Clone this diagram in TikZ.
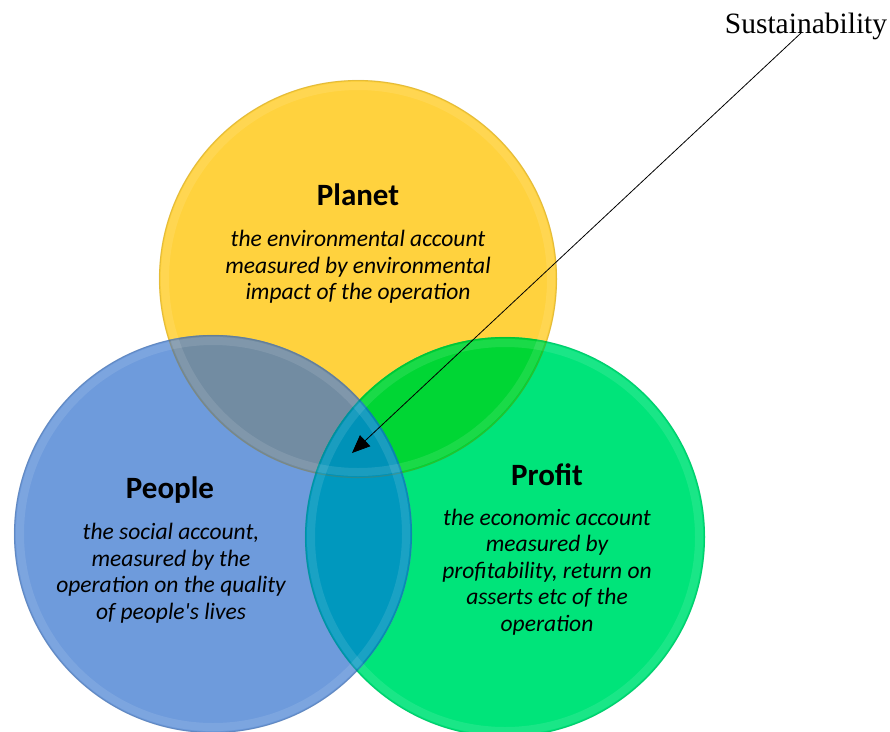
\documentclass[tikz,border=0pt]{standalone}
\usepackage{fontspec}
\setmainfont{Carlito}[Ligatures=TeXOff]
\newfontfamily\sustfont{Liberation Serif}
\usetikzlibrary{arrows.meta}
\definecolor{planetc}{RGB}{255,210,62}
\definecolor{peoplec}{RGB}{110,155,220}
\definecolor{profitc}{RGB}{0,228,122}
\definecolor{plpe}{RGB}{114,140,162}
\definecolor{plpr}{RGB}{0,214,52}
\definecolor{pepr}{RGB}{0,152,190}
\definecolor{allc}{RGB}{0,146,184}
\begin{document}
\begin{tikzpicture}[x=1pt,y=-1pt,
  title/.style={font=\fontsize{31}{36}\selectfont\bfseries, text=black, inner sep=0pt, anchor=base},
  desc/.style={font=\fontsize{23.5}{26.5}\selectfont\itshape, align=center, text=black, inner sep=0pt},
  rim/.style={line width=1.2pt, draw opacity=0.25},
  glow/.style={line width=8pt, draw=white, draw opacity=0.10},
  arrowline/.style={line width=0.8pt, -{Triangle[length=18pt,width=15pt]}}]
\useasboundingbox (0,0) rectangle (890,731);
\fill[white] (0,0) rectangle (890,731);
\coordinate (cpl) at (358,279);
\coordinate (cpe) at (213,534);
\coordinate (cpr) at (505,537);
% base fills
\fill[planetc] (cpl) circle (199pt);
\fill[profitc] (cpr) circle (200pt);
\fill[peoplec] (cpe) circle (199pt);
% overlaps
\begin{scope}
  \clip (cpl) circle (199pt);
  \fill[plpe] (cpe) circle (199pt);
  \fill[plpr] (cpr) circle (200pt);
\end{scope}
\begin{scope}
  \clip (cpe) circle (199pt);
  \fill[pepr] (cpr) circle (200pt);
  \clip (cpl) circle (199pt);
  \fill[allc] (cpr) circle (200pt);
\end{scope}
% soft inner glow and rims
\draw[glow] (cpl) circle (193pt);
\draw[glow] (cpr) circle (194pt);
\draw[glow] (cpe) circle (193pt);
\draw[rim, draw=planetc!60!black] (cpl) circle (198.5pt);
\draw[rim, draw=profitc!60!black] (cpr) circle (199.5pt);
\draw[rim, draw=peoplec!55!black] (cpe) circle (198.5pt);
% texts
\node[title] (planet) at (358,205) {Planet};
\node[desc] (planetd) at (358,267) {the environmental account\\measured by environmental\\impact of the operation};
\node[title] (people) at (170,498) {People};
\node[desc] (peopled) at (171,573) {the social account,\\measured by the\\operation on the quality\\of people's lives};
\node[title] (profit) at (547,485) {Profit};
\node[desc] (profitd) at (547,572) {the economic account\\measured by\\profitability, return on\\asserts etc of the\\operation};
\node[font=\sustfont\fontsize{29.5}{33}\selectfont, inner sep=0pt, anchor=base] (sust) at (806,33) {Sustainability};
% arrow
\coordinate (stail) at (801,33);
\coordinate (stip) at (352,453);
\draw[arrowline] (stail) -- (stip);
\end{tikzpicture}
\end{document}
